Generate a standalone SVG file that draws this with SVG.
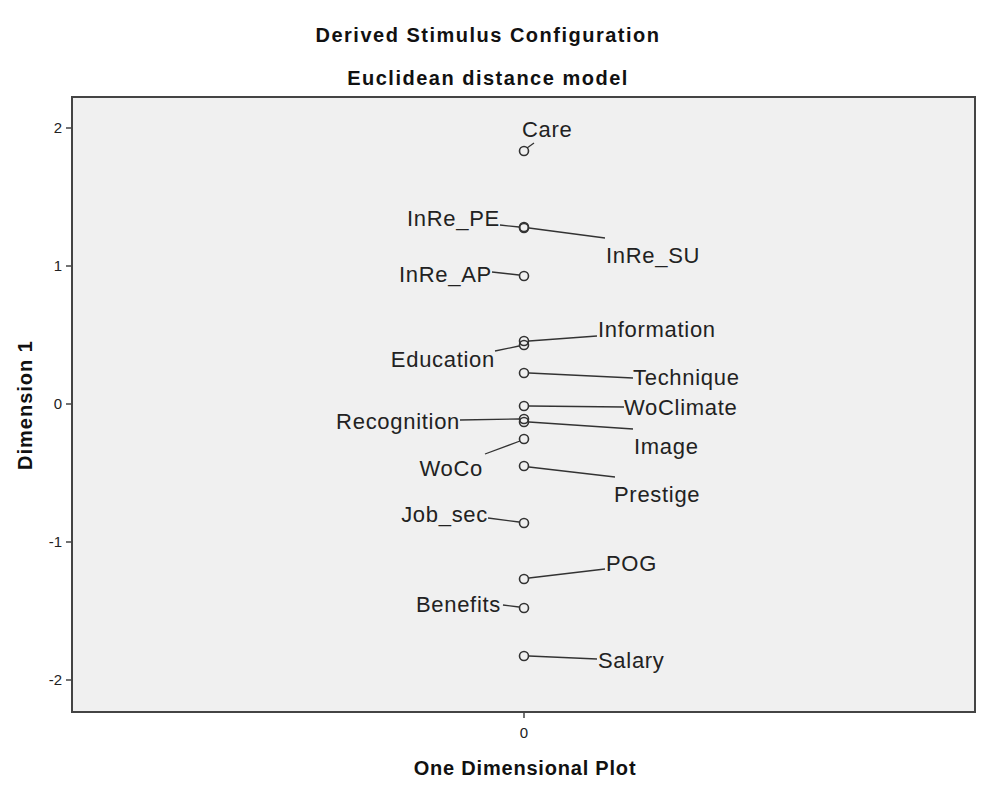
<svg xmlns="http://www.w3.org/2000/svg" width="989" height="800" viewBox="0 0 989 800">
<style>
.t{font-family:"Liberation Sans",Arial,sans-serif;font-size:22px;letter-spacing:0.7px;fill:#222}
.b{font-family:"Liberation Sans",Arial,sans-serif;font-size:20px;font-weight:bold;fill:#111}
.k{font-family:"Liberation Sans",Arial,sans-serif;font-size:15px;fill:#222}
.p{fill:none;stroke:#333;stroke-width:1.6}
.c line{stroke:#333;stroke-width:1.3}
</style>
<rect width="989" height="800" fill="#fff"/>
<text class="b" x="488" y="42" text-anchor="middle" letter-spacing="1.5">Derived Stimulus Configuration</text>
<text class="b" x="488" y="85" text-anchor="middle" letter-spacing="1.5">Euclidean distance model</text>
<rect x="72" y="97" width="903" height="615" fill="#f0f0f0" stroke="#444" stroke-width="2"/>
<g id="axes" stroke="#444" stroke-width="1.5">
<line x1="66" y1="128" x2="72" y2="128"/><line x1="66" y1="266" x2="72" y2="266"/>
<line x1="66" y1="404" x2="72" y2="404"/><line x1="66" y1="542" x2="72" y2="542"/>
<line x1="66" y1="680" x2="72" y2="680"/><line x1="524" y1="712" x2="524" y2="718"/>
</g>
<g class="k" text-anchor="end">
<text x="62" y="133">2</text><text x="62" y="271">1</text><text x="62" y="409">0</text>
<text x="62" y="547">-1</text><text x="62" y="685">-2</text>
</g>
<text class="k" x="524" y="738" text-anchor="middle">0</text>
<text class="b" x="525" y="775" text-anchor="middle" letter-spacing="0.8">One Dimensional Plot</text>
<text class="b" transform="translate(32,405) rotate(-90)" text-anchor="middle" letter-spacing="1">Dimension 1</text>
<g id="connectors" class="c">
<line x1="527" y1="148" x2="534" y2="143"/>
<line x1="519" y1="227" x2="500" y2="225"/>
<line x1="529" y1="228" x2="605" y2="238"/>
<line x1="519" y1="275" x2="492" y2="272"/>
<line x1="529" y1="341" x2="597" y2="336"/>
<line x1="519" y1="346" x2="495" y2="351"/>
<line x1="529" y1="373" x2="633" y2="378"/>
<line x1="529" y1="406" x2="624" y2="407"/>
<line x1="519" y1="419" x2="460" y2="420"/>
<line x1="529" y1="422" x2="633" y2="429"/>
<line x1="520" y1="441" x2="485" y2="454"/>
<line x1="529" y1="467" x2="615" y2="477"/>
<line x1="519" y1="522" x2="488" y2="518"/>
<line x1="529" y1="578" x2="605" y2="569"/>
<line x1="519" y1="607" x2="503" y2="605"/>
<line x1="529" y1="656" x2="597" y2="659"/>
</g>
<g id="Care"><circle class="p" cx="524" cy="151" r="4.5"/><text class="t" x="522" y="137">Care</text></g>
<g id="InRe_PE"><circle class="p" cx="524" cy="227" r="4.5"/><text class="t" x="500" y="226" text-anchor="end">InRe_PE</text></g>
<g id="InRe_SU"><circle class="p" cx="524" cy="228" r="4.5"/><text class="t" x="606" y="263">InRe_SU</text></g>
<g id="InRe_AP"><circle class="p" cx="524" cy="276" r="4.5"/><text class="t" x="492" y="282" text-anchor="end">InRe_AP</text></g>
<g id="Information"><circle class="p" cx="524" cy="341" r="4.5"/><text class="t" x="598" y="337">Information</text></g>
<g id="Education"><circle class="p" cx="524" cy="345" r="4.5"/><text class="t" x="495" y="367" text-anchor="end">Education</text></g>
<g id="Technique"><circle class="p" cx="524" cy="373" r="4.5"/><text class="t" x="633" y="385">Technique</text></g>
<g id="WoClimate"><circle class="p" cx="524" cy="406" r="4.5"/><text class="t" x="624" y="415">WoClimate</text></g>
<g id="Recognition"><circle class="p" cx="524" cy="419" r="4.5"/><text class="t" x="460" y="429" text-anchor="end">Recognition</text></g>
<g id="Image"><circle class="p" cx="524" cy="422" r="4.5"/><text class="t" x="634" y="454">Image</text></g>
<g id="WoCo"><circle class="p" cx="524" cy="439" r="4.5"/><text class="t" x="483" y="476" text-anchor="end">WoCo</text></g>
<g id="Prestige"><circle class="p" cx="524" cy="466" r="4.5"/><text class="t" x="614" y="502">Prestige</text></g>
<g id="Job_sec"><circle class="p" cx="524" cy="523" r="4.5"/><text class="t" x="488" y="522" text-anchor="end">Job_sec</text></g>
<g id="POG"><circle class="p" cx="524" cy="579" r="4.5"/><text class="t" x="606" y="571">POG</text></g>
<g id="Benefits"><circle class="p" cx="524" cy="608" r="4.5"/><text class="t" x="501" y="612" text-anchor="end">Benefits</text></g>
<g id="Salary"><circle class="p" cx="524" cy="656" r="4.5"/><text class="t" x="598" y="668">Salary</text></g>
</svg>
